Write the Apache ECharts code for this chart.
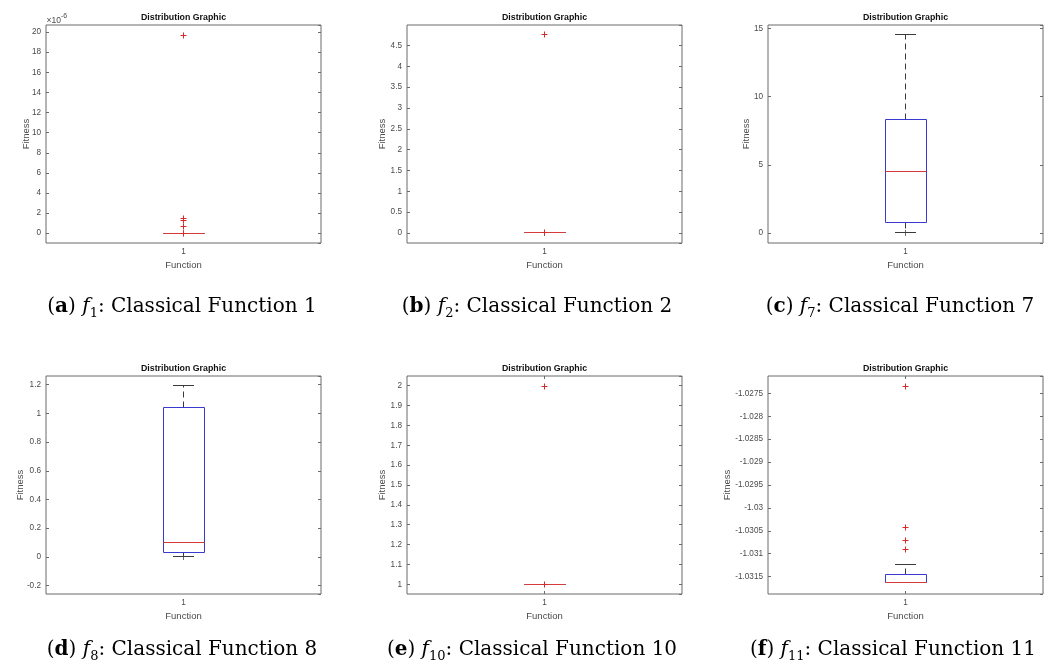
<!DOCTYPE html>
<html>
<head>
<meta charset="utf-8">
<script src="https://cdn.jsdelivr.net/npm/echarts@6/dist/echarts.min.js"></script>
<style>
  html, body { margin: 0; padding: 0; background: #fff; }
  #chart { width: 1051px; height: 669px; }
</style>
</head>
<body>
<div id="chart"></div>
<script>
// ---------------- DATA ----------------
const categories = ['1'];
const panelTitle = 'Distribution Graphic';
const xName = 'Function';
const yName = 'Fitness';

// box statistics: [min(lower whisker), q1, median, q3, max(upper whisker)]
const boxA = [0, 0, 0, 0, 0];
const boxB = [0, 0, 0, 0, 0];
const boxC = [0, 0.78, 4.49, 8.31, 14.58];
const boxD = [0, 0.028, 0.098, 1.044, 1.193];
const boxE = [1, 1, 1, 1, 1];
const boxF = [-1.031624, -1.031624, -1.031624, -1.031464, -1.03123];

// outliers
const outA = [1.97e-5, 1.5e-6, 1.28e-6, 0.68e-6, 0];
const outB = [4.77, 0.001];
const outC = [];
const outD = [];
const outE = [1.998, 1.0];
const outF = [-1.02734, -1.030436, -1.03072, -1.03091];

// y-axis ranges and tick steps
const yMinA = -0.97e-6, yMaxA = 20.7e-6, yStepA = 2e-6;
const yMinB = -0.24,    yMaxB = 4.99,    yStepB = 0.5;
const yMinC = -0.735,   yMaxC = 15.26,   yStepC = 5;
const yMinD = -0.258,   yMaxD = 1.26,    yStepD = 0.2;
const yMinE = 0.951,    yMaxE = 2.049,   yStepE = 0.1;
const yMinF = -1.031879, yMaxF = -1.027121, yStepF = 0.0005;

// captions
const capLetters = ['a', 'b', 'c', 'd', 'e', 'f'];
const capSubs = ['1', '2', '7', '8', '10', '11'];
const capNames = ['Classical Function 1', 'Classical Function 2', 'Classical Function 7',
                  'Classical Function 8', 'Classical Function 10', 'Classical Function 11'];

// ---------------- LAYOUT ----------------
const colLeft = [46, 407, 768];
const colFitnessX = [[26, 382.5, 746.5], [20, 382.5, 727.5]];
const rowTop = [25, 376];
const plotW = 275, plotH = 218;
const capCenterX = [[182, 537, 900], [182, 532, 893]];
const capY = [306.5, 649.5];

const BOX_COLOR = '#3a3ad0';
const MED_COLOR = '#d83a3a';
const OUT_COLOR = '#d42a2a';
const WHISK_COLOR = '#3a3a3a';
const AXIS_COLOR = '#6b6b6b';
const LABEL_COLOR = '#4a4a4a';

const panels = [
  {box: boxA, out: outA, min: yMinA, max: yMaxA, step: yStepA, scale: 1e6},
  {box: boxB, out: outB, min: yMinB, max: yMaxB, step: yStepB, scale: 1},
  {box: boxC, out: outC, min: yMinC, max: yMaxC, step: yStepC, scale: 1},
  {box: boxD, out: outD, min: yMinD, max: yMaxD, step: yStepD, scale: 1},
  {box: boxE, out: outE, min: yMinE, max: yMaxE, step: yStepE, scale: 1},
  {box: boxF, out: outF, min: yMinF, max: yMaxF, step: yStepF, scale: 1}
];

function crisp(v) { return Math.round(v - 0.5) + 0.5; }
function fmt(v, s) { return String(parseFloat((v * s).toPrecision(8))); }

function renderBox(params, api) {
  const band = api.size([1, 0])[0];
  const hw = band * 0.075;
  const cw = band * 0.0375;
  const cx = api.coord([api.value(0), 0])[0];
  const yMin = crisp(api.coord([0, api.value(1)])[1]);
  const yQ1 = crisp(api.coord([0, api.value(2)])[1]);
  const yMed = crisp(api.coord([0, api.value(3)])[1]);
  const yQ3 = crisp(api.coord([0, api.value(4)])[1]);
  const yMax = crisp(api.coord([0, api.value(5)])[1]);
  const x = crisp(cx);
  const x0 = Math.round(cx - hw) + 0.5, x1 = Math.round(cx + hw) + 0.5;
  const children = [];
  if (yMax < yQ3) children.push({type: 'line', shape: {x1: x, y1: yQ3, x2: x, y2: yMax},
    style: {stroke: WHISK_COLOR, lineWidth: 1, lineDash: [6, 4]}});
  if (yMin > yQ1) children.push({type: 'line', shape: {x1: x, y1: yQ1, x2: x, y2: yMin},
    style: {stroke: WHISK_COLOR, lineWidth: 1, lineDash: [6, 4]}});
  children.push({type: 'line', shape: {x1: Math.round(cx - cw), y1: yMax, x2: Math.round(cx + cw), y2: yMax},
    style: {stroke: WHISK_COLOR, lineWidth: 1}});
  children.push({type: 'line', shape: {x1: Math.round(cx - cw), y1: yMin, x2: Math.round(cx + cw), y2: yMin},
    style: {stroke: WHISK_COLOR, lineWidth: 1}});
  children.push({type: 'rect', shape: {x: x0, y: yQ3, width: x1 - x0, height: yQ1 - yQ3},
    style: {fill: 'none', stroke: BOX_COLOR, lineWidth: 1}});
  children.push({type: 'line', shape: {x1: x0, y1: yMed, x2: x1, y2: yMed},
    style: {stroke: MED_COLOR, lineWidth: 1}});
  return {type: 'group', children: children};
}

function renderOutlier(params, api) {
  const p = api.coord([api.value(0), api.value(1)]);
  const x = crisp(p[0]), y = crisp(p[1]), r = 3;
  return {type: 'group', children: [
    {type: 'line', shape: {x1: x - r, y1: y, x2: x + r, y2: y}, style: {stroke: OUT_COLOR, lineWidth: 1}},
    {type: 'line', shape: {x1: x, y1: y - r, x2: x, y2: y + r}, style: {stroke: OUT_COLOR, lineWidth: 1}}
  ]};
}

const grid = [], xAxis = [], yAxis = [], series = [], graphic = [];
const labelFont = {fontFamily: 'Liberation Sans', fontSize: 8.2, color: LABEL_COLOR};

panels.forEach(function (p, i) {
  const row = Math.floor(i / 3), col = i % 3;
  const left = colLeft[col], top = rowTop[row];
  grid.push({left: left, top: top, width: plotW, height: plotH, show: true,
    borderColor: AXIS_COLOR, borderWidth: 1, backgroundColor: '#fff', containLabel: false});
  const tick = {show: true, inside: true, length: 3, alignWithLabel: true, lineStyle: {color: AXIS_COLOR}};
  xAxis.push({type: 'category', data: categories, gridIndex: i, position: 'bottom',
    axisLine: {show: false}, axisTick: tick,
    axisLabel: Object.assign({margin: 5}, labelFont), splitLine: {show: false}});
  xAxis.push({type: 'category', data: categories, gridIndex: i, position: 'top',
    axisLine: {show: false}, axisTick: tick, axisLabel: {show: false}, splitLine: {show: false}});
  const yBase = {type: 'value', gridIndex: i, min: p.min, max: p.max,
    minInterval: p.step, maxInterval: p.step, splitNumber: 10,
    axisLine: {show: false}, splitLine: {show: false},
    axisTick: {show: true, inside: true, length: 3, lineStyle: {color: AXIS_COLOR}}};
  yAxis.push(Object.assign({}, yBase, {position: 'left',
    axisLabel: Object.assign({margin: 5, showMinLabel: false, showMaxLabel: false,
      formatter: function (v) { return fmt(v, p.scale); }}, labelFont)}));
  yAxis.push(Object.assign({}, yBase, {position: 'right', axisLabel: {show: false}}));

  series.push({type: 'custom', xAxisIndex: 2 * i, yAxisIndex: 2 * i,
    renderItem: renderBox, encode: {x: 0, y: [1, 2, 3, 4, 5]},
    data: [[0].concat(p.box)], z: 3, silent: true});
  series.push({type: 'custom', xAxisIndex: 2 * i, yAxisIndex: 2 * i,
    renderItem: renderOutlier, encode: {x: 0, y: 1},
    data: p.out.map(function (v) { return [0, v]; }), z: 4, silent: true});

  // title
  graphic.push({type: 'text', x: left + plotW / 2, y: top - 7.5, style: {
    text: panelTitle, align: 'center', verticalAlign: 'middle',
    fontFamily: 'Liberation Sans', fontWeight: 'bold', fontSize: 8.8, fill: '#111'}});
  // y name
  graphic.push({type: 'text', x: colFitnessX[row][col], y: top + plotH / 2, rotation: Math.PI / 2, style: {
    text: yName, align: 'center', verticalAlign: 'middle',
    fontFamily: 'Liberation Sans', fontSize: 9.5, fill: LABEL_COLOR}});
  // x name
  graphic.push({type: 'text', x: left + plotW / 2, y: top + plotH + 22.5, style: {
    text: xName, align: 'center', verticalAlign: 'middle',
    fontFamily: 'Liberation Sans', fontSize: 9.5, fill: LABEL_COLOR}});
  // caption
  const serif = 'DejaVu Serif';
  graphic.push({type: 'text', x: capCenterX[row][col], y: capY[row], style: {
    text: '{p|(}{b|' + capLetters[i] + '}{p|) }{i|f}{s|' + capSubs[i] + '}{p|: ' + capNames[i] + '}',
    align: 'center', verticalAlign: 'middle', fill: '#000',
    rich: {
      p: {fontFamily: serif, fontSize: 20, lineHeight: 28, fill: '#000'},
      b: {fontFamily: serif, fontSize: 20, lineHeight: 28, fontWeight: 'bold', fill: '#000'},
      i: {fontFamily: serif, fontSize: 20, lineHeight: 28, fontStyle: 'italic', fill: '#000'},
      s: {fontFamily: serif, fontSize: 13, lineHeight: 13, verticalAlign: 'bottom', fill: '#000'}
    }}});
});

// exponent marker for panel (a)
graphic.push({type: 'text', x: 46.5, y: 19, style: {
  text: '{m|\u00d710}{e|-6}', align: 'left', verticalAlign: 'middle',
  rich: {
    m: {fontFamily: 'Liberation Sans', fontSize: 8.5, fill: LABEL_COLOR, lineHeight: 13, verticalAlign: 'bottom'},
    e: {fontFamily: 'Liberation Sans', fontSize: 7, fill: LABEL_COLOR, lineHeight: 9, verticalAlign: 'top'}
  }}});

const chart = echarts.init(document.getElementById('chart'), null, {renderer: 'canvas'});
chart.setOption({
  backgroundColor: '#fff',
  animation: false,
  grid: grid, xAxis: xAxis, yAxis: yAxis, series: series, graphic: graphic
});
</script>
</body>
</html>
